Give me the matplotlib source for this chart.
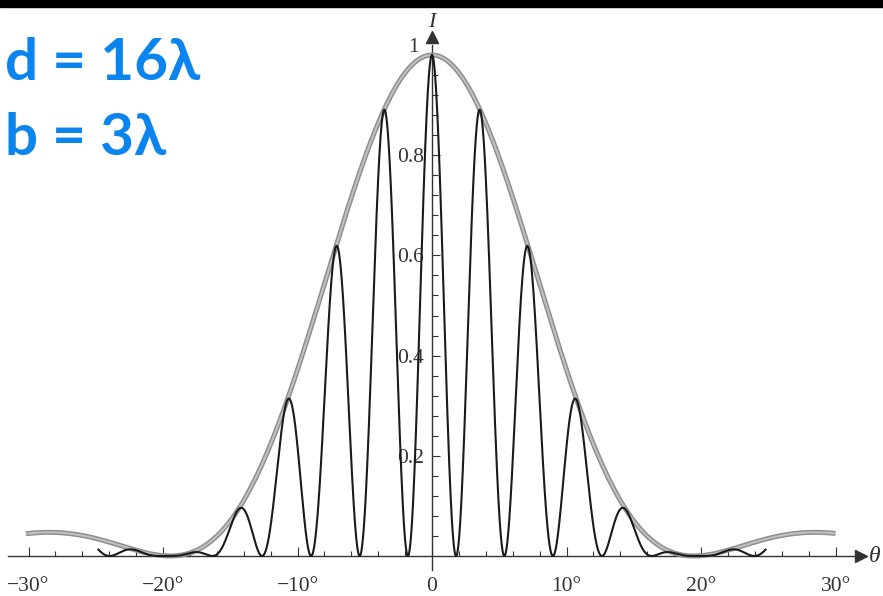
import numpy as np
import matplotlib
matplotlib.use("Agg")
import matplotlib.pyplot as plt
from matplotlib.patches import Rectangle
from matplotlib.ticker import FixedLocator, FixedFormatter

# slit spacing and slit width, in wavelengths
d = 16
b = 3

# plotting ranges (degrees) for the two curves
envelope_range = (-30.2, 30.0)
pattern_range = (-24.8, 24.8)

x_ticks = [-30, -20, -10, 0, 10, 20, 30]
x_labels = ["\u221230\u00b0", "\u221220\u00b0", "\u221210\u00b0", "0", "10\u00b0", "20\u00b0", "30\u00b0"]
y_ticks = [0.2, 0.4, 0.6, 0.8]
y_labels = ["0.2", "0.4", "0.6", "0.8"]

W, H = 883, 596
fig = plt.figure(figsize=(W / 100, H / 100), dpi=100)
ax = fig.add_axes([0, 0, 1, 1])

# pixel mapping of the reference: x0 at 432 px, 13.45 px/deg; y0 at 556 px, 501 px/unit
ax.set_xlim(-432 / 13.45, (W - 432) / 13.45)
ax.set_ylim((556 - H) / 501, 556 / 501)
ax.patch.set_alpha(0)

th_env = np.linspace(*envelope_range, 3000)
th_pat = np.linspace(*pattern_range, 6000)
s_env = np.sin(np.radians(th_env))
s_pat = np.sin(np.radians(th_pat))
envelope = np.sinc(b * s_env) ** 2
pattern = np.sinc(b * s_pat) ** 2 * np.cos(np.pi * d * s_pat) ** 2

ax.plot(th_env, envelope, color="#8f8f8f", lw=3.6, solid_capstyle="butt", zorder=3)
ax.plot(th_env, envelope, color="#c2c2c2", lw=1.4, solid_capstyle="butt", zorder=3)
ax.plot(th_pat, pattern, color="#1a1a1a", lw=1.5, zorder=4)

# axes through the origin
for side in ["top", "right"]:
    ax.spines[side].set_visible(False)
ax.spines["bottom"].set_position(("data", 0))
ax.spines["left"].set_position(("data", 0))
ax.spines["bottom"].set_bounds(-31.5, 31.5)
ax.spines["left"].set_bounds(-0.028, 1.02)
for side in ["bottom", "left"]:
    ax.spines[side].set_color("#333333")
    ax.spines[side].set_linewidth(1.0)

ax.plot(31.9, 0, marker=">", color="#333333", ms=9, clip_on=False, zorder=5)
ax.plot(0, 1.035, marker="^", color="#333333", ms=9, clip_on=False, zorder=5)

serif = "Liberation Serif"
ax.xaxis.set_major_locator(FixedLocator(x_ticks))
ax.xaxis.set_major_formatter(FixedFormatter(x_labels))
ax.xaxis.set_minor_locator(FixedLocator(np.arange(-30, 31, 2)))
ax.yaxis.set_major_locator(FixedLocator(y_ticks))
ax.yaxis.set_major_formatter(FixedFormatter(y_labels))
ax.yaxis.set_minor_locator(FixedLocator(np.arange(0.04, 0.97, 0.04)))

ax.tick_params(axis="x", which="major", direction="in", length=6.5, width=0.8,
               color="#333333", pad=15, labelsize=15.5, labelcolor="#333333")
ax.tick_params(axis="x", which="minor", direction="in", length=3.5, width=0.8, color="#333333")
ax.tick_params(axis="y", which="major", direction="in", length=6, width=0.8,
               color="#333333", pad=6, labelsize=15.5, labelcolor="#333333")
ax.tick_params(axis="y", which="minor", direction="in", length=4.5, width=0.8, color="#333333")
for lab in ax.get_xticklabels() + ax.get_yticklabels():
    lab.set_fontfamily(serif)

# the "1" sits a little above its tick in the reference
ax.text(-1.4, 1.015, "1", family=serif, fontsize=15.5, ha="center", va="center", color="#333333")
ax.text(0, 1.055, "I", family=serif, style="italic", fontsize=16, ha="center", va="baseline",
        color="#333333")
ax.text(32.9, 0, "\u03b8", family=serif, style="italic", fontsize=17, ha="center", va="center",
        color="#333333")

# black strip along the top edge
fig.patches.append(Rectangle((0, 1 - 7 / H), 1, 7 / H, transform=fig.transFigure,
                             color="black", zorder=10))

blue = "#0b84ee"
fig.text(5 / W, 1 - 80 / H, f"d = {d}\u03bb", color=blue, fontsize=42, fontweight="bold",
         family=["Lato", "DejaVu Sans"], ha="left", va="baseline")
fig.text(5 / W, 1 - 155 / H, f"b = {b}\u03bb", color=blue, fontsize=42, fontweight="bold",
         family=["Lato", "DejaVu Sans"], ha="left", va="baseline")

fig.savefig("out.png", dpi=100)
